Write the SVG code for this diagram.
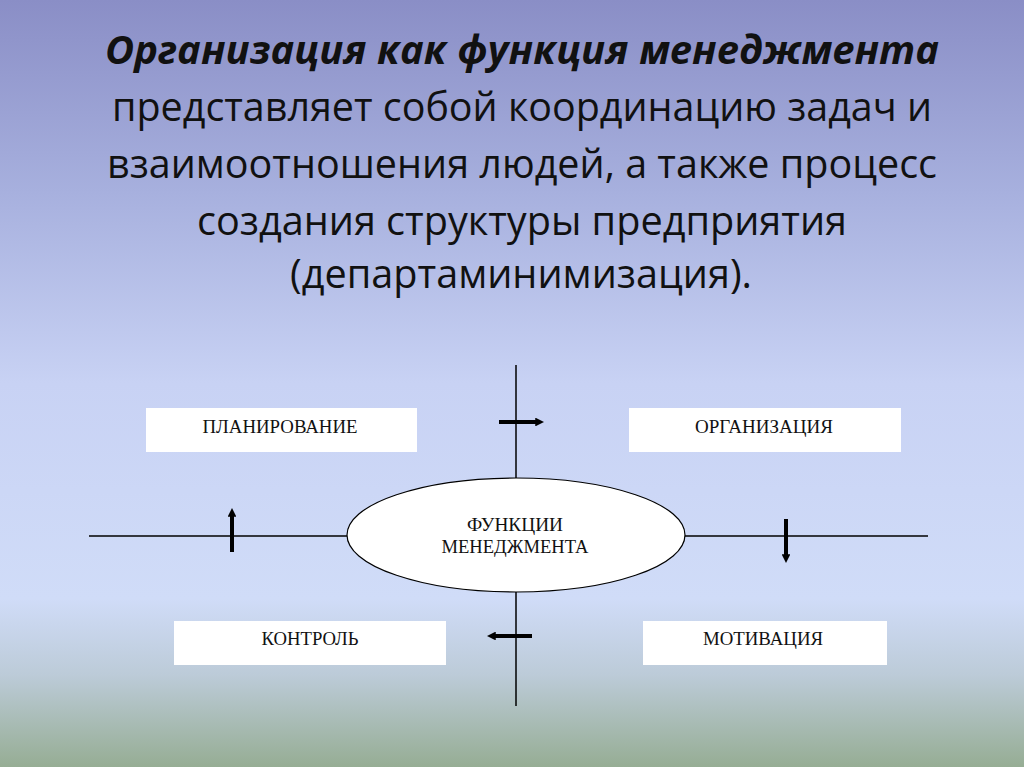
<svg xmlns="http://www.w3.org/2000/svg" width="1024" height="767" viewBox="0 0 1024 767">
<defs>
<linearGradient id="bg" x1="0" y1="0" x2="0" y2="1">
<stop offset="0" stop-color="#8a8ec6"/>
<stop offset="0.25" stop-color="#a7b0de"/>
<stop offset="0.5" stop-color="#c8d2f4"/>
<stop offset="0.78" stop-color="#d0dcf8"/>
<stop offset="0.88" stop-color="#bccbd8"/>
<stop offset="1" stop-color="#96ad94"/>
</linearGradient>
<marker id="ah" viewBox="0 0 10 10" refX="2" refY="5" markerWidth="2.2" markerHeight="2.2" orient="auto" markerUnits="strokeWidth">
<path d="M0,0 L10,5 L0,10 z" fill="#000"/>
</marker>
<style>
.title{font-family:"Open Sans","Liberation Sans",sans-serif;fill:#111;text-anchor:middle}
.lbl{font-family:"Liberation Serif","Times New Roman",serif;font-size:18px;fill:#111;text-anchor:middle}
.box{fill:#fff}
.ln{stroke:#000;stroke-width:1.5;fill:none}
.arr{stroke:#000;stroke-width:4;fill:none;marker-end:url(#ah)}
</style>
</defs>
<rect width="1024" height="767" fill="url(#bg)"/>
<g id="title">
<text class="title" x="522" y="64" font-size="40" font-weight="bold" font-style="italic" textLength="834" lengthAdjust="spacingAndGlyphs">Организация как функция менеджмента</text>
<text class="title" x="522" y="121" font-size="40" textLength="820" lengthAdjust="spacingAndGlyphs">представляет собой координацию задач и</text>
<text class="title" x="522" y="178" font-size="40" textLength="830" lengthAdjust="spacingAndGlyphs">взаимоотношения людей, а также процесс</text>
<text class="title" x="522" y="235" font-size="40" textLength="650" lengthAdjust="spacingAndGlyphs">создания структуры предприятия</text>
<text class="title" x="521" y="288" font-size="40" textLength="462" lengthAdjust="spacingAndGlyphs">(департаминимизация).</text>
</g>
<g id="connectors">
<line class="ln" x1="516" y1="365" x2="516" y2="478"/>
<line class="ln" x1="516" y1="592" x2="516" y2="706"/>
<line class="ln" x1="89" y1="536" x2="347" y2="536"/>
<line class="ln" x1="685" y1="536" x2="928" y2="536"/>
<line class="arr" x1="499" y1="422" x2="537" y2="422"/>
<line class="arr" x1="232" y1="552" x2="232" y2="515"/>
<line class="arr" x1="786" y1="519" x2="786" y2="556"/>
<line class="arr" x1="532" y1="636" x2="494" y2="636"/>
</g>
<g id="center">
<ellipse cx="516" cy="535" rx="169" ry="57" fill="#fff" stroke="#000" stroke-width="1.2"/>
<text class="lbl" x="515" y="531" textLength="96" lengthAdjust="spacingAndGlyphs">ФУНКЦИИ</text>
<text class="lbl" x="515" y="553" textLength="147" lengthAdjust="spacingAndGlyphs">МЕНЕДЖМЕНТА</text>
</g>
<g id="planning">
<rect class="box" x="146" y="408" width="271" height="44"/>
<text class="lbl" x="280" y="433" textLength="155" lengthAdjust="spacingAndGlyphs">ПЛАНИРОВАНИЕ</text>
</g>
<g id="organization">
<rect class="box" x="629" y="408" width="272" height="44"/>
<text class="lbl" x="764" y="433" textLength="138" lengthAdjust="spacingAndGlyphs">ОРГАНИЗАЦИЯ</text>
</g>
<g id="control">
<rect class="box" x="174" y="621" width="272" height="44"/>
<text class="lbl" x="310" y="645" textLength="97" lengthAdjust="spacingAndGlyphs">КОНТРОЛЬ</text>
</g>
<g id="motivation">
<rect class="box" x="643" y="621" width="244" height="44"/>
<text class="lbl" x="763" y="645" textLength="120" lengthAdjust="spacingAndGlyphs">МОТИВАЦИЯ</text>
</g>
</svg>
